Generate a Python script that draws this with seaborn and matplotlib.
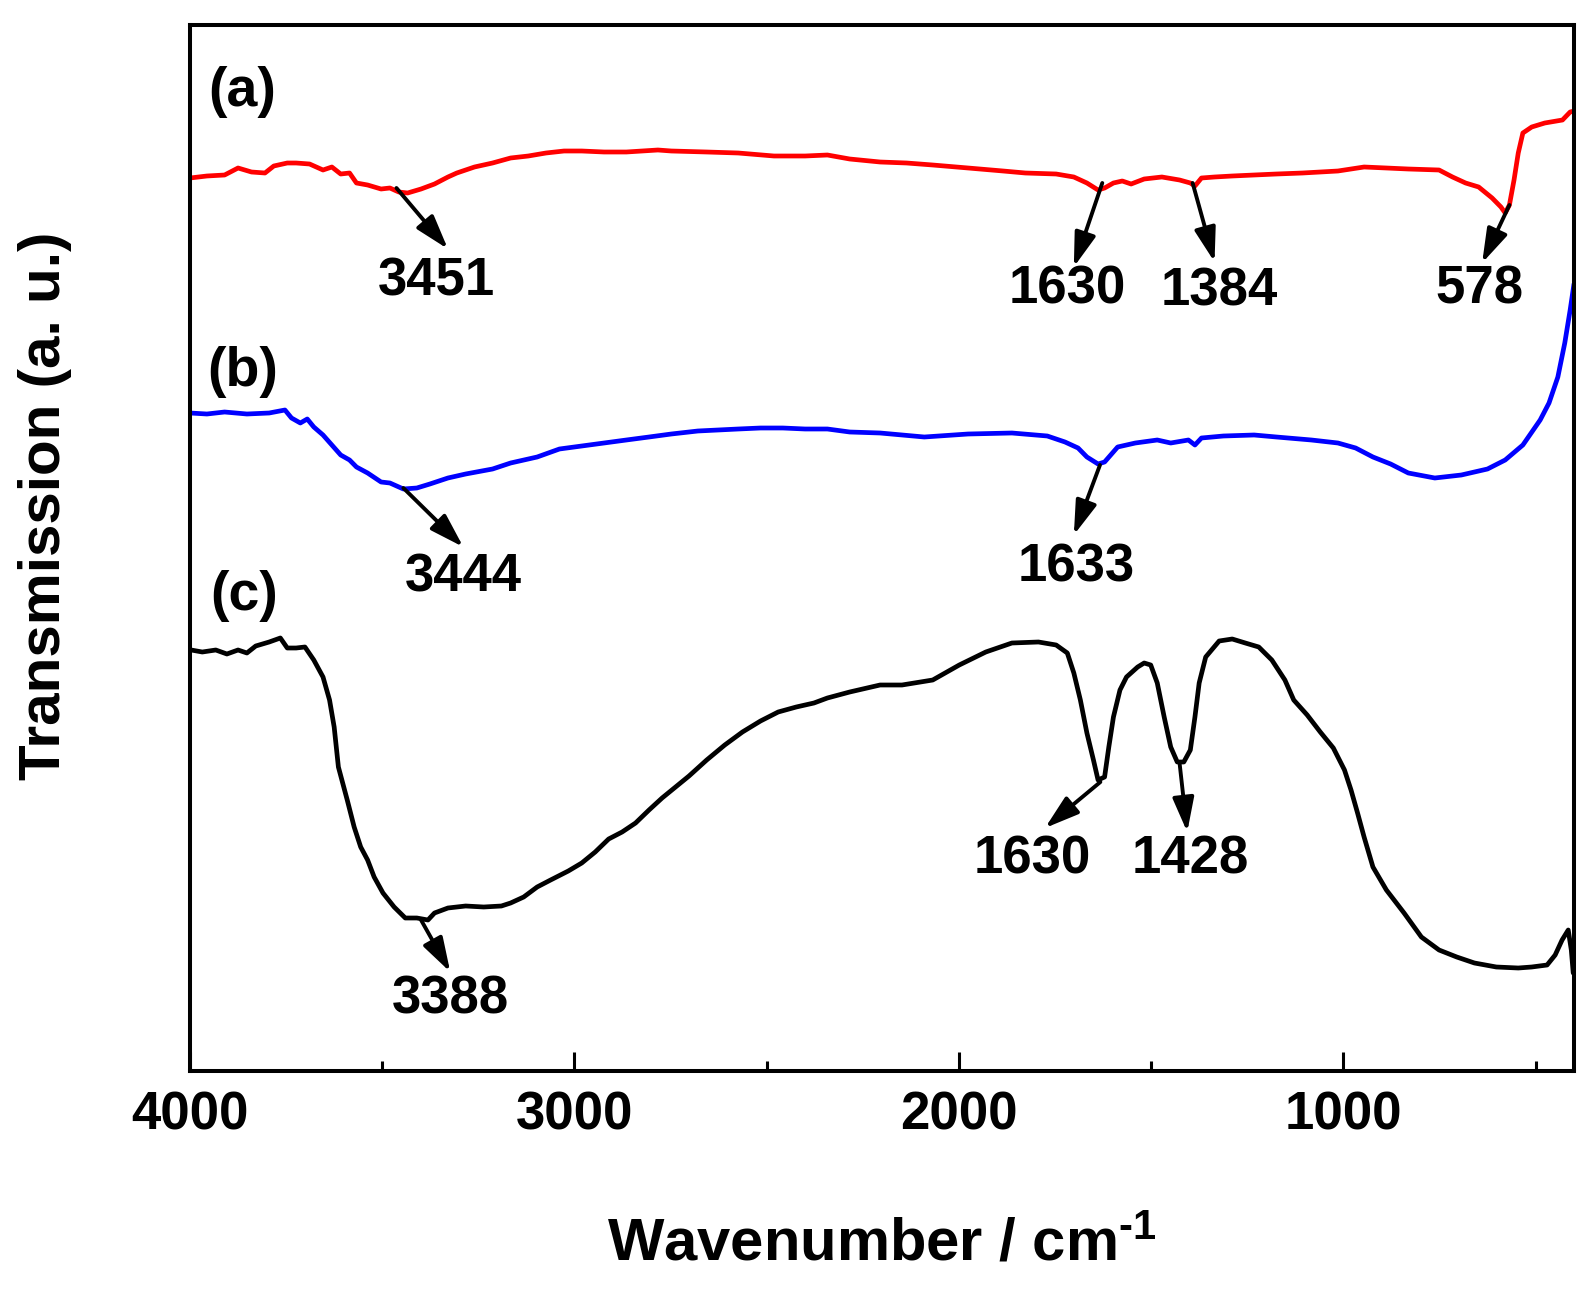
"""
FTIR spectra of three samples (a), (b), (c) with marked absorption bands.
Saves out.png
"""
import numpy as np
import pandas as pd
import matplotlib
matplotlib.use("Agg")
import matplotlib.pyplot as plt
from matplotlib.ticker import MultipleLocator
import seaborn as sns

# ── Data ──────────────────────────────────────────────────────────────────────

RED_WN = [4000, 3956, 3910, 3875, 3840, 3805, 3782, 3747, 3724, 3689, 3654, 3631,
          3608, 3585, 3567, 3538, 3503, 3480, 3457, 3434, 3399, 3364, 3329, 3306,
          3260, 3213, 3166, 3120, 3074, 3027, 2981, 2923, 2865, 2783, 2748, 2656,
          2574, 2481, 2400, 2342, 2284, 2205, 2136, 2068, 1976, 1885, 1827, 1747,
          1701, 1667, 1638, 1621, 1598, 1575, 1552, 1518, 1472, 1426, 1398, 1386,
          1369, 1335, 1289, 1232, 1174, 1106, 1014, 946, 888, 831, 751, 716,
          682, 648, 613, 590, 579, 568, 556, 545, 533, 510, 476, 430, 410, 400]
RED_T = [89.3, 89.5, 89.6, 90.3, 89.9, 89.8, 90.5, 90.8, 90.8, 90.7, 90.1, 90.4,
         89.7, 89.8, 88.8, 88.6, 88.2, 88.3, 87.9, 87.8, 88.2, 88.7, 89.4, 89.8,
         90.4, 90.8, 91.3, 91.5, 91.8, 92.0, 92.0, 91.9, 91.9, 92.1, 92.0, 91.9,
         91.8, 91.5, 91.5, 91.6, 91.2, 90.9, 90.8, 90.6, 90.3, 90.0, 89.8, 89.7,
         89.4, 88.8, 88.1, 88.3, 88.8, 89.0, 88.7, 89.2, 89.4, 89.1, 88.8, 88.5,
         89.3, 89.4, 89.5, 89.6, 89.7, 89.8, 90.0, 90.4, 90.3, 90.2, 90.1, 89.4,
         88.8, 88.4, 87.3, 86.4, 85.8, 86.6, 89.1, 91.8, 93.8, 94.4, 94.8, 95.1, 95.9, 96.0]

BLUE_WN = [4000, 3956, 3910, 3852, 3794, 3753, 3736, 3713, 3695, 3678, 3654, 3631,
           3608, 3585, 3567, 3538, 3503, 3480, 3445, 3410, 3376, 3329, 3283, 3213,
           3166, 3097, 3039, 2981, 2923, 2865, 2806, 2748, 2679, 2574, 2516, 2458,
           2400, 2342, 2284, 2205, 2090, 1976, 1862, 1770, 1724, 1690, 1667, 1638,
           1621, 1587, 1541, 1484, 1449, 1403, 1386, 1369, 1312, 1232, 1174, 1083,
           1014, 968, 923, 877, 831, 762, 693, 625, 579, 533, 488, 465, 442, 424, 410, 400]
BLUE_T = [65.8, 65.7, 65.9, 65.7, 65.8, 66.1, 65.3, 64.8, 65.2, 64.4, 63.6, 62.6,
          61.6, 61.1, 60.4, 59.8, 58.9, 58.8, 58.2, 58.3, 58.7, 59.3, 59.7, 60.2,
          60.8, 61.4, 62.2, 62.5, 62.8, 63.1, 63.4, 63.7, 64.0, 64.2, 64.3, 64.3,
          64.2, 64.2, 63.9, 63.8, 63.4, 63.7, 63.8, 63.5, 62.9, 62.3, 61.4, 60.7,
          60.9, 62.4, 62.8, 63.1, 62.8, 63.1, 62.6, 63.3, 63.5, 63.6, 63.4, 63.1,
          62.8, 62.3, 61.4, 60.7, 59.8, 59.3, 59.6, 60.2, 61.1, 62.6, 65.1, 66.8,
          69.4, 72.8, 76.1, 78.7]

BLACK_WN = [3997, 3968, 3933, 3904, 3875, 3852, 3829, 3794, 3765, 3747, 3724, 3701,
            3678, 3654, 3637, 3625, 3614, 3591, 3573, 3556, 3538, 3521, 3498, 3469,
            3440, 3410, 3381, 3364, 3329, 3283, 3236, 3190, 3166, 3132, 3097, 3062,
            3016, 2981, 2946, 2911, 2876, 2841, 2806, 2772, 2737, 2702, 2656, 2609,
            2563, 2516, 2470, 2423, 2377, 2342, 2284, 2205, 2148, 2068, 1999, 1930,
            1862, 1793, 1747, 1718, 1701, 1684, 1667, 1650, 1638, 1621, 1610, 1598,
            1581, 1564, 1535, 1518, 1501, 1484, 1466, 1449, 1432, 1415, 1398, 1386,
            1375, 1358, 1323, 1289, 1255, 1220, 1186, 1152, 1129, 1094, 1060, 1026,
            997, 980, 963, 946, 923, 888, 842, 797, 751, 705, 659, 602,
            545, 510, 470, 449, 431, 415, 407, 402]
BLACK_T = [42.1, 41.9, 42.1, 41.7, 42.1, 41.8, 42.5, 42.9, 43.3, 42.3, 42.3, 42.4,
           41.1, 39.4, 37.1, 34.4, 30.4, 27.1, 24.4, 22.4, 21.1, 19.4, 17.8, 16.4,
           15.3, 15.3, 15.1, 15.8, 16.3, 16.5, 16.4, 16.5, 16.8, 17.4, 18.4, 19.1,
           20.0, 20.8, 21.9, 23.2, 23.9, 24.8, 26.1, 27.3, 28.4, 29.5, 31.1, 32.6,
           33.9, 35.0, 35.9, 36.4, 36.8, 37.3, 37.9, 38.6, 38.6, 39.1, 40.6, 41.9,
           42.8, 42.9, 42.6, 41.8, 39.8, 37.1, 33.8, 31.1, 29.1, 29.4, 32.4, 35.4,
           38.1, 39.4, 40.4, 40.8, 40.6, 38.8, 35.4, 32.4, 30.9, 30.9, 32.1, 35.4,
           38.8, 41.4, 43.0, 43.2, 42.8, 42.4, 41.1, 39.1, 37.1, 35.6, 33.9, 32.3,
           30.1, 28.1, 25.8, 23.4, 20.4, 18.1, 15.8, 13.4, 12.1, 11.4, 10.8, 10.4,
           10.3, 10.4, 10.6, 11.6, 13.1, 14.1, 12.1, 9.8]

SAMPLE_LABELS = ["(a)", "(b)", "(c)"]
PEAK_LABELS = ["3451", "1630", "1384", "578", "3444", "1633", "3388", "1630", "1428"]

# ── Layout (positions of texts / arrows, in data units) ─────────────────────

SAMPLE_POS = [(3863, 97.9), (3863, 69.9), (3858, 47.5)]
# (tail_wn, tail_T, head_wn, head_T, text_wn, text_T) for each peak label
PEAK_POS = [
    (3463, 88.3, 3329, 82.2, 3358, 78.9),
    (1627, 88.8, 1701, 80.4, 1718, 78.1),
    (1392, 88.8, 1335, 80.9, 1323, 78.0),
    (568, 86.6, 639, 80.8, 645, 78.1),
    (3445, 58.3, 3289, 52.4, 3289, 49.3),
    (1633, 60.6, 1701, 53.6, 1695, 50.4),
    (3399, 15.1, 3323, 9.9, 3323, 7.1),
    (1632, 28.9, 1776, 24.3, 1810, 21.1),
    (1426, 30.8, 1406, 23.9, 1398, 21.1),
]

FONT = ["Liberation Sans", "DejaVu Sans"]


def main():
    sns.set_style("ticks")
    plt.rcParams["font.family"] = FONT
    plt.rcParams["font.weight"] = "bold"
    plt.rcParams["mathtext.default"] = "bf"
    plt.rcParams["mathtext.fontset"] = "custom"
    plt.rcParams["mathtext.bf"] = "Liberation Sans:bold"
    plt.rcParams["mathtext.rm"] = "Liberation Sans:bold"
    for key in ["text.color", "axes.labelcolor", "xtick.color",
                "ytick.color", "axes.edgecolor"]:
        plt.rcParams[key] = "black"

    fig = plt.figure(figsize=(15.9, 12.93), dpi=100)
    ax = fig.add_axes([190 / 1590, 1 - 1071 / 1293,
                       (1574 - 190) / 1590, (1071 - 25) / 1293])

    series = [
        (RED_WN, RED_T, "#ff0000"),
        (BLUE_WN, BLUE_T, "#0000ff"),
        (BLACK_WN, BLACK_T, "#000000"),
    ]
    for wn, t, col in series:
        df = pd.DataFrame({"wn": wn, "T": t})
        sns.lineplot(data=df, x="wn", y="T", ax=ax, color=col, lw=3.4,
                     sort=False, estimator=None)

    ax.set_xlim(4000, 400)
    ax.set_ylim(0, 104.6)

    # axis styling: inward ticks on bottom only, no y ticks
    ax.xaxis.set_major_locator(MultipleLocator(1000))
    ax.xaxis.set_minor_locator(MultipleLocator(500))
    ax.tick_params(axis="x", which="major", direction="in", length=14,
                   width=2.2, pad=14, labelsize=38, top=False, colors="black")
    ax.tick_params(axis="x", which="minor", direction="in", length=7,
                   width=2.2, top=False, colors="black")
    ax.set_yticks([])
    for sp in ax.spines.values():
        sp.set_linewidth(2.9)
        sp.set_color("black")
        sp.set_visible(True)
    for lab in ax.get_xticklabels():
        lab.set_fontweight("bold")

    # hyphen (not minus) in the superscript, as in the original figure
    ax.set_xlabel("Wavenumber / cm$^{\\text{-}1}$", fontsize=43,
                  fontweight="bold", color="black")
    ax.xaxis.set_label_coords(0.5, -0.14)
    ax.set_ylabel("Transmission (a. u.)", fontsize=42, fontweight="bold",
                  color="black")
    ax.yaxis.set_label_coords(-0.085, 0.54)

    for lab, (x, y) in zip(SAMPLE_LABELS, SAMPLE_POS):
        ax.text(x, y, lab, fontsize=40, fontweight="bold", color="black",
                ha="center", va="center")

    for lab, (tx, ty, hx, hy, lx, ly) in zip(PEAK_LABELS, PEAK_POS):
        ax.annotate("", xy=(hx, hy), xytext=(tx, ty),
                    arrowprops=dict(arrowstyle="-|>,head_length=0.8,head_width=0.25",
                                    color="black", lw=2.8, mutation_scale=26,
                                    shrinkA=0, shrinkB=0))
        ax.text(lx, ly, lab, fontsize=38, fontweight="bold", color="black",
                ha="center", va="center")

    fig.savefig("out.png", dpi=100)
    plt.close(fig)


if __name__ == "__main__":
    main()
